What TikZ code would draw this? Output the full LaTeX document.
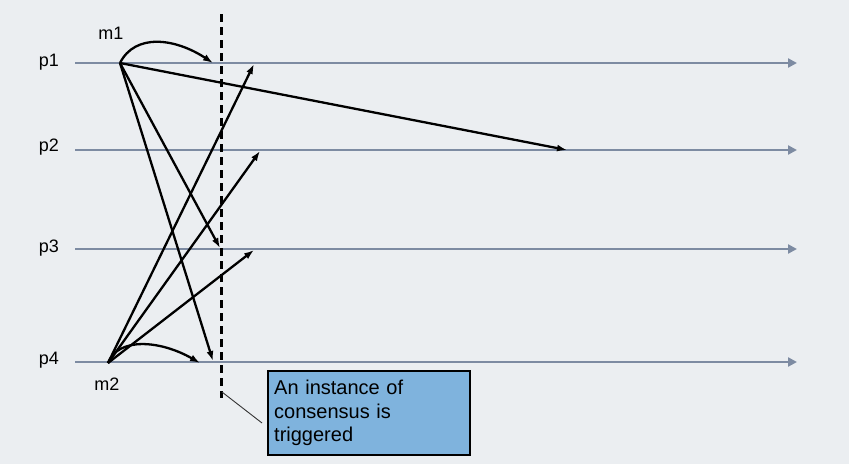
\documentclass[tikz,border=0pt]{standalone}
\usepackage{fontspec}
\setmainfont{Liberation Sans}
\usetikzlibrary{arrows.meta}
\definecolor{bgGray}{HTML}{EBEEF1}
\definecolor{lineGray}{HTML}{7D8BA2}
\definecolor{boxBlue}{HTML}{7FB3DD}
\tikzset{
  procLine/.style={draw=lineGray, line width=2.6pt, -{Triangle[length=9pt,width=9pt]}},
  msgArrow/.style={draw=black, line width=2.3pt, -{Latex[length=10pt,width=7pt]}},
  procLabel/.style={font=\fontsize{18}{21}\selectfont, inner sep=0pt},
}
\begin{document}
\begin{tikzpicture}[x=1pt, y=-1pt]
		\fill[bgGray] (0,0) rectangle (849,464);
		\useasboundingbox (0,0) rectangle (849,464);
		% processes
		\coordinate (p1Start) at (75,63);  \coordinate (p1End) at (797,63);
		\coordinate (p2Start) at (75,150); \coordinate (p2End) at (797,150);
		\coordinate (p3Start) at (75,249); \coordinate (p3End) at (797,249);
		\coordinate (p4Start) at (75,362); \coordinate (p4End) at (797,362);
		\draw[procLine] (p1Start) -- (p1End);
		\draw[procLine] (p2Start) -- (p2End);
		\draw[procLine] (p3Start) -- (p3End);
		\draw[procLine] (p4Start) -- (p4End);
		\node[procLabel](p1Label) at (49,62){p1};
		\node[procLabel](p2Label) at (49,147){p2};
		\node[procLabel](p3Label) at (49,248){p3};
		\node[procLabel](p4Label) at (49,360){p4};
		\node[procLabel](m1Label) at (111,33){m1};
		\node[procLabel](m2Label) at (107,384){m2};
		% cut
		\coordinate (cutTop) at (221,14);
		\coordinate (cutBottom) at (221,398);
		\draw[dash pattern=on 8pt off 5pt, line width=3pt] (cutTop) -- (cutBottom);
		% broadcast of m1
		\coordinate (m1) at (120,63);
		\coordinate (m1ToP1) at (213,63);
		\coordinate (m1ToP2) at (567,150);
		\coordinate (m1ToP3) at (220,248);
		\coordinate (m1ToP4) at (213,361);
		\draw[msgArrow] (m1) .. controls (135,33) and (175,38) .. (m1ToP1);
		\draw[msgArrow] (m1) -- (m1ToP2);
		\draw[msgArrow] (m1) -- (m1ToP3);
		\draw[msgArrow] (m1) -- (m1ToP4);
		% broadcast of m2
		\coordinate (m2) at (108,363);
		\coordinate (m2ToP1) at (254,64);
		\coordinate (m2ToP2) at (260,151);
		\coordinate (m2ToP3) at (254,250);
		\coordinate (m2ToP4) at (200,363);
		\draw[msgArrow] (m2) -- (m2ToP1);
		\draw[msgArrow] (m2) -- (m2ToP2);
		\draw[msgArrow] (m2) -- (m2ToP3);
		\draw[msgArrow] (m2) .. controls (118,337) and (160,340) .. (m2ToP4);
		% note
		\node[rectangle, draw=black, line width=2.4pt, fill=boxBlue, anchor=north west, minimum width=202pt, minimum height=84pt, text width=190pt, inner xsep=5pt, align=left, font=\fontsize{20}{23.5}\selectfont](noteBox) at (267,370){An instance of\\consensus is\\triggered};
		\coordinate (cutNote) at (222,392);
		\coordinate (noteEnd) at (262,423);
		\draw[line width=0.9pt, black!80] (cutNote) -- (noteEnd);
	\end{tikzpicture}
\end{document}
